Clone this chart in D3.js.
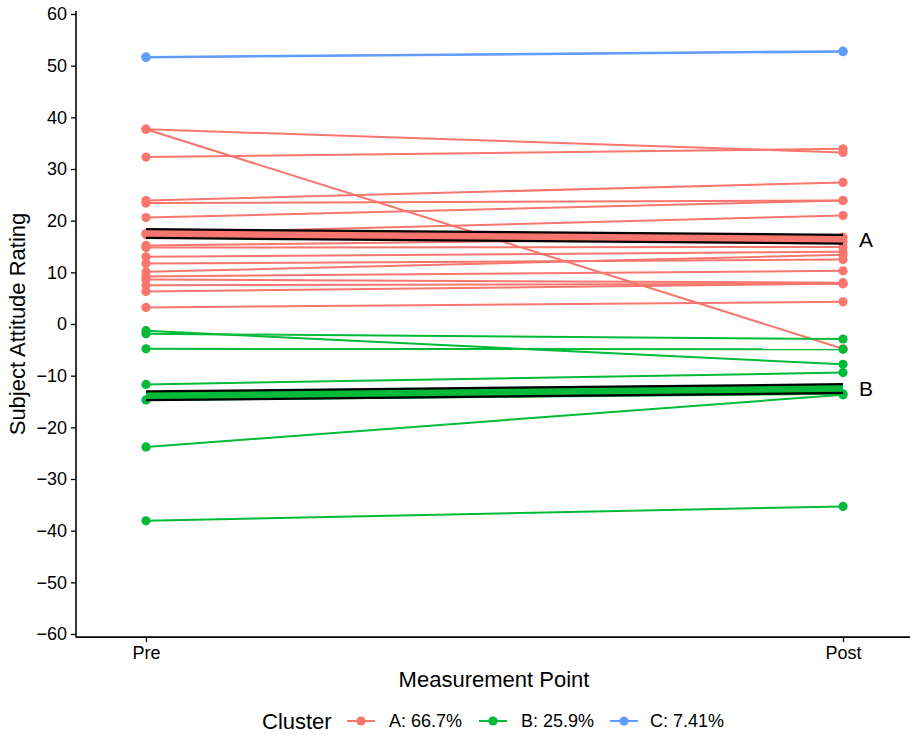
<!DOCTYPE html>
<html>
<head>
<meta charset="utf-8">
<script src="https://cdn.jsdelivr.net/npm/d3@7"></script>
<style>
  html, body { margin: 0; padding: 0; background: #fff; }
  text { font-family: "Liberation Sans", Arial, Helvetica, sans-serif; }
</style>
</head>
<body>
<svg id="chart" width="910" height="735"></svg>
<script>
// ---- data ----
const timePoints = ["Pre", "Post"];
const yTicks = [-60, -50, -40, -30, -20, -10, 0, 10, 20, 30, 40, 50, 60];

const clusterA_pre  = [37.7, 37.7, 32.3, 23.9, 23.4, 20.6, 17.5, 17.3, 15.2, 14.8, 13.0, 11.7, 10.1, 9.2, 8.6, 7.5, 6.3, 3.2];
const clusterA_post = [33.2, -4.8, 33.9, 27.4, 23.9, 23.9, 21.0, 15.9, 16.8, 14.9, 14.0, 12.5, 13.4, 10.3, 8.0, 7.8, 7.8, 4.3];
const clusterB_pre  = [-1.3, -1.9, -4.8, -11.7, -14.7, -23.8, -38.1];
const clusterB_post = [-7.8, -2.9, -4.9, -9.4, -13.5, -13.7, -35.3];
const clusterC_pre  = [51.7, 51.6];
const clusterC_post = [52.8, 52.7];

const centerA = [17.5, 16.4];
const centerB = [-13.9, -12.5];

const clusterNames = ["A", "B", "C"];
const clusterLabels = ["A: 66.7%", "B: 25.9%", "C: 7.41%"];
const clusterColors = ["#F8766D", "#00BA38", "#619CFF"];

// ---- setup ----
const svg = d3.select("#chart");
const x = d3.scalePoint().domain(timePoints).range([146, 843]);
const y = d3.scaleLinear().domain([-60, 60]).range([634, 14]);
const color = d3.scaleOrdinal().domain(clusterNames).range(clusterColors);

const clusters = [
  { name: "A", pre: clusterA_pre, post: clusterA_post, center: centerA },
  { name: "B", pre: clusterB_pre, post: clusterB_post, center: centerB },
  { name: "C", pre: clusterC_pre, post: clusterC_post, center: null }
];

const line = d3.line().x(d => x(d.t)).y(d => y(d.v));

const plot = svg.append("g");

// individual trajectories
clusters.forEach(c => {
  const subjects = c.pre.map((v, i) => [{ t: "Pre", v: v }, { t: "Post", v: c.post[i] }]);
  const g = plot.append("g");
  g.selectAll("path").data(subjects).join("path")
    .attr("d", line)
    .attr("fill", "none")
    .attr("stroke", color(c.name))
    .attr("stroke-width", 2);
  g.selectAll("circle").data(subjects.flat()).join("circle")
    .attr("cx", d => x(d.t))
    .attr("cy", d => y(d.v))
    .attr("r", 4.6)
    .attr("fill", color(c.name));
});

// cluster centres
clusters.filter(c => c.center).forEach(c => {
  const pts = timePoints.map((t, i) => ({ t: t, v: c.center[i] }));
  plot.append("path").attr("d", line(pts)).attr("fill", "none")
    .attr("stroke", "#000").attr("stroke-width", 11);
  plot.append("path").attr("d", line(pts)).attr("fill", "none")
    .attr("stroke", color(c.name)).attr("stroke-width", 6.5);
  plot.append("text")
    .attr("x", x("Post") + 16)
    .attr("y", y(c.center[1]))
    .attr("dy", "0.36em")
    .attr("font-size", 21)
    .attr("fill", "#000")
    .text(c.name);
});

// ---- axes ----
const yAxisG = svg.append("g").attr("transform", "translate(76,0)")
  .call(d3.axisLeft(y).tickValues(yTicks).tickSize(5).tickSizeOuter(0)
    .tickFormat(d => d < 0 ? "\u2212" + Math.abs(d) : String(d)));
yAxisG.select(".domain").remove();
yAxisG.append("line").attr("x1", 0).attr("x2", 0)
  .attr("y1", y(60.6)).attr("y2", y(-60.6) + 0.5)
  .attr("stroke", "#000").attr("stroke-width", 1.6);
yAxisG.selectAll(".tick line").attr("stroke", "#000").attr("stroke-width", 1.3);
yAxisG.selectAll(".tick text").attr("font-size", 18).attr("fill", "#000")
  .attr("x", -9).attr("font-family", "Liberation Sans, Arial, sans-serif");

const xAxisG = svg.append("g").attr("transform", `translate(0,${y(-60.6)})`)
  .call(d3.axisBottom(x).tickSize(5).tickSizeOuter(0));
xAxisG.select(".domain").remove();
xAxisG.append("line").attr("x1", 76).attr("x2", 910).attr("y1", 0).attr("y2", 0)
  .attr("stroke", "#000").attr("stroke-width", 1.6);
xAxisG.selectAll(".tick line").attr("stroke", "#000").attr("stroke-width", 1.3);
xAxisG.selectAll(".tick text").attr("font-size", 18).attr("fill", "#000")
  .attr("y", 9).attr("font-family", "Liberation Sans, Arial, sans-serif");

// axis titles
svg.append("text")
  .attr("x", 494).attr("y", 687)
  .attr("text-anchor", "middle").attr("font-size", 22).attr("fill", "#000")
  .text("Measurement Point");
svg.append("text")
  .attr("transform", "translate(25,324) rotate(-90)")
  .attr("text-anchor", "middle").attr("font-size", 22).attr("fill", "#000")
  .text("Subject Attitude Rating");

// ---- legend ----
const legY = 721;
svg.append("text").attr("x", 262).attr("y", legY).attr("dy", "0.36em")
  .attr("font-size", 22).attr("fill", "#000").text("Cluster");
const legendX = [347, 479, 610];
const legendTextX = [389, 521, 650];
clusterNames.forEach((n, i) => {
  const g = svg.append("g");
  g.append("line").attr("x1", legendX[i]).attr("x2", legendX[i] + 28)
    .attr("y1", legY).attr("y2", legY)
    .attr("stroke", color(n)).attr("stroke-width", 2);
  g.append("circle").attr("cx", legendX[i] + 14).attr("cy", legY).attr("r", 4.6)
    .attr("fill", color(n));
  g.append("text").attr("x", legendTextX[i]).attr("y", legY).attr("dy", "0.36em")
    .attr("font-size", 18).attr("fill", "#000").text(clusterLabels[i]);
});
</script>
</body>
</html>
